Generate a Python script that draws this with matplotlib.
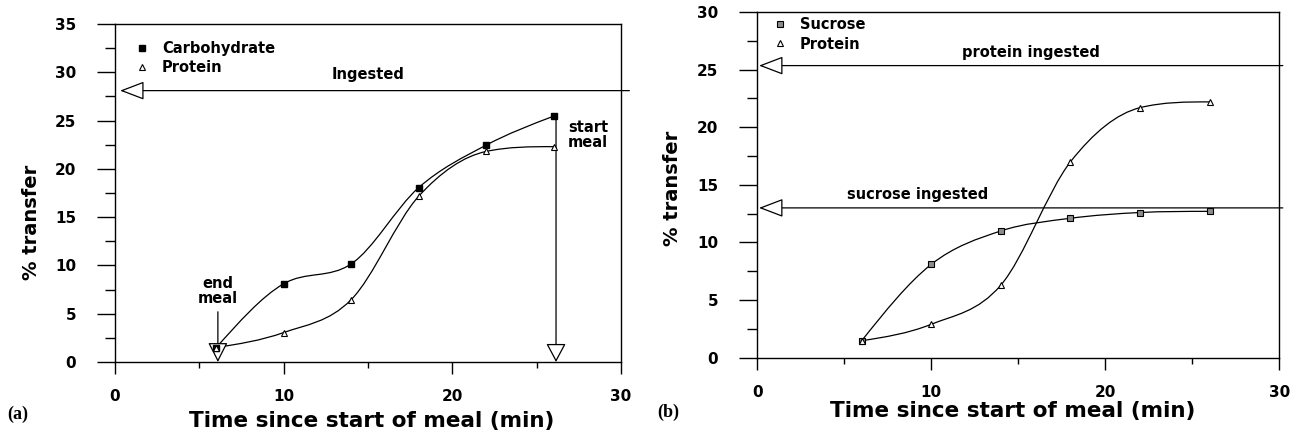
import numpy as np
import matplotlib
matplotlib.use('Agg')
import matplotlib.pyplot as plt
from matplotlib.path import Path
from matplotlib.patches import PathPatch

# Data
time_min = [6, 10, 14, 18, 22, 26]

# panel (a)
carb_a = [1.5, 8.1, 10.15, 18.05, 22.45, 25.45]
prot_a = [1.5, 3.05, 6.45, 17.15, 21.8, 22.3]
ingested_a = 28.1

# panel (b)
sucrose_b = [1.47, 8.1, 11.0, 12.1, 12.6, 12.7]
prot_b = [1.47, 2.9, 6.3, 17.0, 21.7, 22.2]
sucrose_ingested_b = 13.0
protein_ingested_b = 25.35

plt.rcParams['font.family'] = ['DejaVu Sans']
plt.rcParams['font.weight'] = 'bold'
small = 10.5
ticksize = 11
big = 15.5


def smooth_path(x, y):
    # cubic bezier path through the points (catmull-rom tangents, kept monotone)
    x = np.asarray(x, float)
    y = np.asarray(y, float)
    n = len(x)
    d = np.diff(y) / np.diff(x)
    m = np.zeros(n)
    for i in range(1, n - 1):
        m[i] = (y[i + 1] - y[i - 1]) / (x[i + 1] - x[i - 1])
    m[0] = (3 * d[0] - m[1]) / 2
    m[-1] = (3 * d[-1] - m[-2]) / 2
    for i in (0, n - 1):
        seg = d[0] if i == 0 else d[-1]
        if m[i] * seg < 0:
            m[i] = 0.0
    for i in range(n - 1):
        if d[i] == 0:
            m[i] = m[i + 1] = 0.0
            continue
        a, b = m[i] / d[i], m[i + 1] / d[i]
        r = a * a + b * b
        if r > 9:
            t = 3 / np.sqrt(r)
            m[i], m[i + 1] = t * a * d[i], t * b * d[i]
    verts = [(x[0], y[0])]
    codes = [Path.MOVETO]
    for i in range(n - 1):
        h = x[i + 1] - x[i]
        verts += [(x[i] + h / 3, y[i] + m[i] * h / 3),
                  (x[i + 1] - h / 3, y[i + 1] - m[i + 1] * h / 3),
                  (x[i + 1], y[i + 1])]
        codes += [Path.CURVE4] * 3
    return Path(verts, codes)


def style_axes(ax, ymax):
    ax.set_xlim(0, 30)
    ax.set_ylim(0, ymax)
    ax.set_xticks([0, 10, 20, 30])
    ax.set_xticks([5, 15, 25], minor=True)
    ax.set_yticks(np.arange(0, ymax + 0.1, 5))
    ax.set_yticks(np.arange(2.5, ymax, 5), minor=True)
    for s in ax.spines.values():
        s.set_linewidth(1.0)
    ax.tick_params(axis='y', which='major', direction='out', length=13, width=1.0,
                   pad=15, labelsize=ticksize)
    ax.tick_params(axis='y', which='minor', direction='out', length=7, width=1.0)
    ax.tick_params(axis='x', which='major', direction='out', length=8.5, width=1.0,
                   pad=11, labelsize=ticksize)
    ax.tick_params(axis='x', which='minor', direction='out', length=4, width=1.0)
    for lab in ax.get_xticklabels() + ax.get_yticklabels():
        lab.set_fontweight('bold')
    ax.set_xlabel('Time since start of meal (min)', fontsize=big, fontweight='bold')
    ax.set_ylabel('% transfer', fontsize=14, fontweight='bold')


def arrow(ax, start, end, hl, hw):
    ax.annotate('', xy=end, xytext=start, annotation_clip=False,
                arrowprops=dict(arrowstyle=f'-|>,head_length={hl},head_width={hw}',
                                mutation_scale=20, fc='white', ec='black', lw=0.9,
                                shrinkA=0, shrinkB=0, clip_on=False))


fig = plt.figure(figsize=(12.98, 4.37), dpi=100)

# ---- panel (a)
ax1 = fig.add_axes([0.0886, 0.1716, 0.3898, 0.7735])
style_axes(ax1, 35)
ax1.add_patch(PathPatch(smooth_path(time_min, carb_a), fill=False, lw=0.9, ec='black'))
ax1.add_patch(PathPatch(smooth_path(time_min, prot_a), fill=False, lw=0.9, ec='black'))
arrow(ax1, (30.5, ingested_a), (0.3, ingested_a), 0.76, 0.29)
arrow(ax1, (6.1, 5.2), (6.1, 0), 0.61, 0.31)
arrow(ax1, (26.15, carb_a[-1]), (26.15, 0), 0.58, 0.31)
ax1.plot(time_min, carb_a, 's', ms=4.5, mfc='black', mec='black', label='Carbohydrate', zorder=5)
ax1.plot(time_min, prot_a, '^', ms=4.5, mfc='white', mec='black', mew=0.8, label='Protein', zorder=5)
ax1.text(15, 29.3, 'Ingested', ha='center', va='baseline', fontsize=small, fontweight='bold')
ax1.text(6.1, 5.8, 'end\nmeal', ha='center', va='bottom', fontsize=small,
         fontweight='bold', linespacing=1.0)
ax1.text(26.85, 25.05, 'start\nmeal', ha='left', va='top', fontsize=small,
         fontweight='bold', linespacing=1.0)
ax1.legend(loc='upper left', bbox_to_anchor=(0.0395, 0.95), frameon=False,
           handlelength=1.0, handletextpad=0.85, borderpad=0, borderaxespad=0,
           labelspacing=0.3, prop={'weight': 'bold', 'size': small})
ax1.xaxis.set_label_coords(0.508, -0.145)
ax1.yaxis.set_label_coords(-0.146, 0.414)

# ---- panel (b)
ax2 = fig.add_axes([0.5834, 0.1815, 0.4022, 0.7910])
style_axes(ax2, 30)
ax2.add_patch(PathPatch(smooth_path(time_min, sucrose_b), fill=False, lw=0.9, ec='black'))
ax2.add_patch(PathPatch(smooth_path(time_min, prot_b), fill=False, lw=0.9, ec='black'))
arrow(ax2, (30.2, protein_ingested_b), (0.1, protein_ingested_b), 0.76, 0.29)
arrow(ax2, (30.2, sucrose_ingested_b), (0.1, sucrose_ingested_b), 0.76, 0.29)
ax2.plot(time_min, sucrose_b, 's', ms=4.5, mfc='0.55', mec='black', mew=0.8, label='Sucrose', zorder=5)
ax2.plot(time_min, prot_b, '^', ms=4.5, mfc='white', mec='black', mew=0.8, label='Protein', zorder=5)
ax2.text(15.7, 26.1, 'protein ingested', ha='center', va='baseline', fontsize=small, fontweight='bold')
ax2.text(9.2, 13.75, 'sucrose ingested', ha='center', va='baseline', fontsize=small, fontweight='bold')
ax2.legend(loc='upper left', bbox_to_anchor=(0.03, 0.985), frameon=False,
           handlelength=1.0, handletextpad=0.85, borderpad=0, borderaxespad=0,
           labelspacing=0.3, prop={'weight': 'bold', 'size': small})
ax2.xaxis.set_label_coords(0.489, -0.125)
ax2.yaxis.set_label_coords(-0.144, 0.49)

fig.text(7 / 1298, 1 - 414 / 437, '(a)', family='Liberation Serif', fontweight='bold',
         fontsize=13, ha='left', va='center')
fig.text(657 / 1298, 1 - 412 / 437, '(b)', family='Liberation Serif', fontweight='bold',
         fontsize=13, ha='left', va='center')

fig.savefig('out.png', dpi=100)
